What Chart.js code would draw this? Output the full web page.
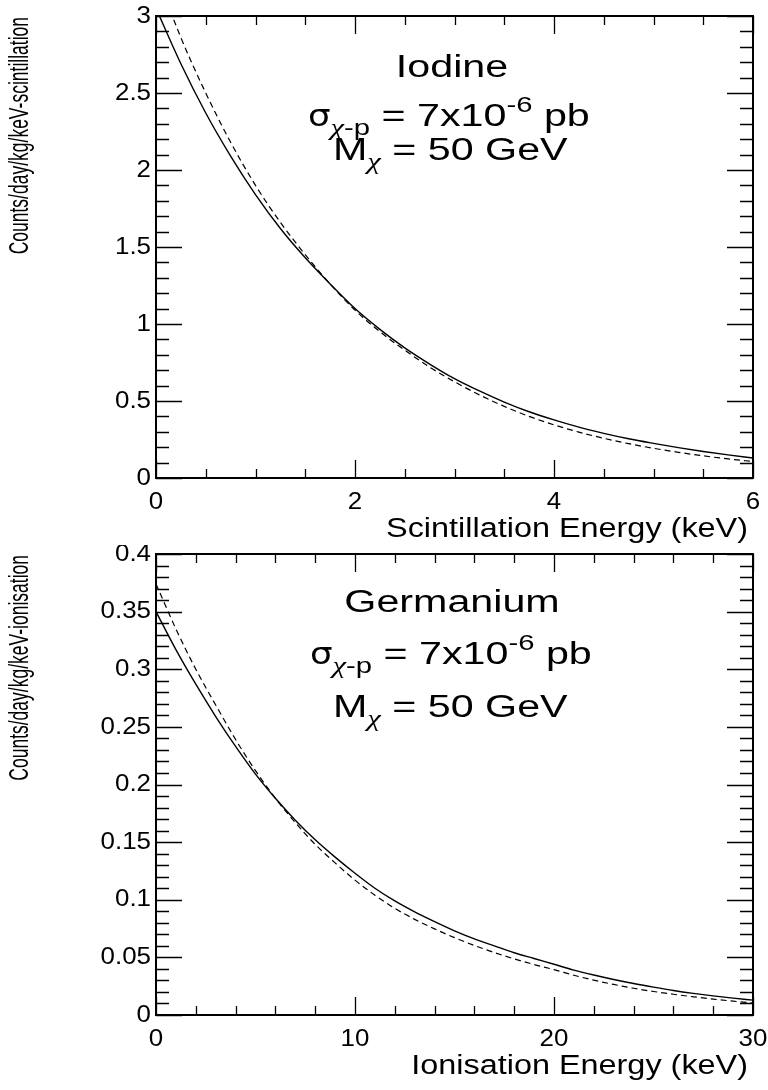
<!DOCTYPE html>
<html>
<head>
<meta charset="utf-8">
<script src="https://cdn.jsdelivr.net/npm/chart.js@4/dist/chart.umd.min.js"></script>
<style>
html,body{margin:0;padding:0;background:#fff;}
canvas{display:block;}
</style>
</head>
<body>
<canvas id="c1" width="768" height="545"></canvas>
<canvas id="c2" width="768" height="545"></canvas>
<script>
// ---------------- data ----------------
const iodineEnergy = [0,0.25,0.5,0.75,1,1.25,1.5,1.75,2,2.25,2.5,2.75,3,3.25,3.5,3.75,4,4.25,4.5,4.75,5,5.25,5.5,5.75,6];
const iodineSolid  = [3.05,2.69,2.37,2.09,1.84,1.62,1.43,1.26,1.10,0.965,0.845,0.74,0.645,0.565,0.493,0.43,0.377,0.33,0.29,0.255,0.225,0.197,0.172,0.15,0.13];
const iodineDashed = [3.28,2.86,2.50,2.18,1.90,1.66,1.45,1.26,1.09,0.95,0.83,0.72,0.625,0.54,0.465,0.40,0.345,0.298,0.258,0.223,0.193,0.167,0.144,0.124,0.107];

const germEnergy = [0,1,2,3,4,5,6,7,8,9,10,11,12,13,14,15,16,17,18,19,20,21,22,23,24,25,26,27,28,29,30];
const germSolid  = [0.350,0.317,0.287,0.259,0.233,0.209,0.188,0.169,0.152,0.137,0.123,0.110,0.099,0.0895,0.081,0.073,0.066,0.060,0.054,0.049,0.044,0.039,0.0347,0.0308,0.0273,0.0242,0.0213,0.0188,0.0166,0.0146,0.0129];
const germDashed = [0.374,0.335,0.300,0.269,0.239,0.212,0.188,0.167,0.148,0.132,0.117,0.104,0.0925,0.083,0.0747,0.0671,0.0603,0.0542,0.0487,0.0438,0.0394,0.0345,0.0302,0.0265,0.0232,0.0204,0.0180,0.0158,0.0138,0.0120,0.0104];

const iodineXTicks  = [0,2,4,6];
const iodineXLabels = ['0','2','4','6'];
const iodineYTicks  = [0,0.5,1,1.5,2,2.5,3];
const iodineYLabels = ['0','0.5','1','1.5','2','2.5','3'];

const germXTicks  = [0,10,20,30];
const germXLabels = ['0','10','20','30'];
const germYTicks  = [0,0.05,0.1,0.15,0.2,0.25,0.3,0.35,0.4];
const germYLabels = ['0','0.05','0.1','0.15','0.2','0.25','0.3','0.35','0.4'];

const iodineTitles = { x: 'Scintillation Energy (keV)', y: 'Counts/day/kg/keV-scintillation', target: 'Iodine' };
const germTitles   = { x: 'Ionisation Energy (keV)',    y: 'Counts/day/kg/keV-ionisation',   target: 'Germanium' };
const crossSection = ['\u03C3', '\u03C7', '-p', ' = 7x10', '-6', ' pb'];
const wimpMass     = ['M', '\u03C7', ' = 50 GeV'];

// ---------------- drawing helpers ----------------
const SANS = "'Liberation Sans', Arial, Helvetica, sans-serif";

function sText(ctx, s, x, y, font, align, k, baseline) {
  ctx.save();
  ctx.font = font;
  ctx.textAlign = 'left';
  ctx.textBaseline = baseline || 'alphabetic';
  const w = ctx.measureText(s).width * k;
  const x0 = align === 'center' ? x - w / 2 : (align === 'right' ? x - w : x);
  ctx.translate(x0, y);
  ctx.scale(k, 1);
  ctx.fillText(s, 0, 0);
  ctx.restore();
  return w;
}

function minorList(min, max, step) {
  const out = [];
  const n = Math.round((max - min) / step);
  for (let i = 0; i <= n; i++) out.push(min + i * step);
  return out;
}

function rootPlugin(spec) {
  return {
    id: 'root_' + spec.name,
    afterDraw(chart) {
      const ctx = chart.ctx, a = chart.chartArea;
      const xs = chart.scales.x, ys = chart.scales.y;
      ctx.save();
      ctx.strokeStyle = '#000';
      ctx.fillStyle = '#000';
      // ticks (inside the frame, on all four sides)
      ctx.lineWidth = 1.3;
      ctx.beginPath();
      minorList(xs.min, xs.max, spec.xMinorStep).forEach(v => {
        const p = Math.round(xs.getPixelForValue(v)) + 0.5;
        ctx.moveTo(p, a.bottom); ctx.lineTo(p, a.bottom - 9);
        ctx.moveTo(p, a.top);    ctx.lineTo(p, a.top + 9);
      });
      spec.xTicks.forEach(v => {
        const p = Math.round(xs.getPixelForValue(v)) + 0.5;
        ctx.moveTo(p, a.bottom); ctx.lineTo(p, a.bottom - 18);
        ctx.moveTo(p, a.top);    ctx.lineTo(p, a.top + 18);
      });
      minorList(ys.min, ys.max, spec.yMinorStep).forEach(v => {
        const p = Math.round(ys.getPixelForValue(v)) + 0.5;
        ctx.moveTo(a.left, p);  ctx.lineTo(a.left + 13, p);
        ctx.moveTo(a.right, p); ctx.lineTo(a.right - 13, p);
      });
      spec.yTicks.forEach(v => {
        const p = Math.round(ys.getPixelForValue(v)) + 0.5;
        ctx.moveTo(a.left, p);  ctx.lineTo(a.left + 26, p);
        ctx.moveTo(a.right, p); ctx.lineTo(a.right - 26, p);
      });
      ctx.stroke();
      // frame
      ctx.lineWidth = 2;
      ctx.strokeRect(a.left, a.top, a.right - a.left, a.bottom - a.top);

      // tick labels
      const tickFont = '24px ' + SANS;
      spec.yTicks.forEach((v, i) => {
        sText(ctx, spec.yLabels[i], 151, ys.getPixelForValue(v), tickFont, 'right', 1.08, 'middle');
      });
      spec.xTicks.forEach((v, i) => {
        sText(ctx, spec.xLabels[i], xs.getPixelForValue(v), a.bottom + 24, tickFont, 'center', 1.08, 'middle');
      });
      // axis titles
      sText(ctx, spec.titles.x, a.right - 5, a.bottom + 52, '27px ' + SANS, 'right', 1.2, 'middle');
      ctx.save();
      ctx.font = '17.5px ' + SANS;
      ctx.textAlign = 'right';
      ctx.textBaseline = 'middle';
      ctx.translate(20, a.top + 1);
      ctx.rotate(-Math.PI / 2);
      ctx.scale(1, 1.6);
      ctx.fillText(spec.titles.y, 0, 0);
      ctx.restore();

      // annotation
      const K = 1.33;
      const big = '31px ' + SANS, small = '22px ' + SANS;
      const chiFont = 'italic 23px "Liberation Serif", serif';
      const sigFont = '31px "DejaVu Sans", ' + SANS;
      sText(ctx, spec.titles.target, 452, spec.ann.y0, big, 'center', K);
      let x = spec.ann.x1, y = spec.ann.y1;
      x += sText(ctx, crossSection[0], x, y, sigFont, 'left', 1.15);
      x += sText(ctx, crossSection[1], x, y + 9, chiFont, 'left', K);
      x += sText(ctx, crossSection[2], x, y + 9, small, 'left', K);
      x += sText(ctx, crossSection[3], x, y, big, 'left', K);
      x += sText(ctx, crossSection[4], x, y - 14, small, 'left', K);
      x += sText(ctx, crossSection[5], x, y, big, 'left', K);
      x = spec.ann.x2; y = spec.ann.y2;
      x += sText(ctx, wimpMass[0], x, y, big, 'left', K);
      x += sText(ctx, wimpMass[1], x, y + 9, chiFont, 'left', K);
      x += sText(ctx, wimpMass[2], x, y, big, 'left', K);
      ctx.restore();
    }
  };
}

function makeChart(id, spec) {
  const pts = (xs, ys) => xs.map((x, i) => ({ x: x, y: ys[i] }));
  return new Chart(document.getElementById(id), {
    type: 'line',
    data: {
      datasets: [
        { data: pts(spec.energy, spec.solid), borderColor: '#000', borderWidth: 1.4,
          pointRadius: 0, fill: false, cubicInterpolationMode: 'monotone' },
        { data: pts(spec.energy, spec.dashed), borderColor: '#000', borderWidth: 1.2,
          borderDash: [6, 4], pointRadius: 0, fill: false, cubicInterpolationMode: 'monotone' }
      ]
    },
    options: {
      responsive: false,
      animation: false,
      devicePixelRatio: 1,
      events: [],
      layout: { padding: { top: spec.padTop, right: 15, left: 0, bottom: 0 } },
      plugins: { legend: { display: false }, tooltip: { enabled: false } },
      scales: {
        x: { type: 'linear', min: spec.xTicks[0], max: spec.xTicks[spec.xTicks.length - 1],
             ticks: { display: false }, grid: { display: false }, border: { display: false },
             afterFit: s => { s.height = spec.xAxisH; } },
        y: { type: 'linear', min: spec.yTicks[0], max: spec.yTicks[spec.yTicks.length - 1],
             ticks: { display: false }, grid: { display: false }, border: { display: false },
             afterFit: s => { s.width = 156; } }
      }
    },
    plugins: [rootPlugin(spec)]
  });
}

makeChart('c1', {
  name: 'iodine', energy: iodineEnergy, solid: iodineSolid, dashed: iodineDashed,
  xTicks: iodineXTicks, xLabels: iodineXLabels, yTicks: iodineYTicks, yLabels: iodineYLabels,
  xMinorStep: 0.5, yMinorStep: 0.1, titles: iodineTitles,
  padTop: 16, xAxisH: 67,
  ann: { y0: 77, x1: 308, y1: 126, x2: 333, y2: 160 }
});
makeChart('c2', {
  name: 'germ', energy: germEnergy, solid: germSolid, dashed: germDashed,
  xTicks: germXTicks, xLabels: germXLabels, yTicks: germYTicks, yLabels: germYLabels,
  xMinorStep: 2, yMinorStep: 0.01, titles: germTitles,
  padTop: 9, xAxisH: 75,
  ann: { y0: 67, x1: 310, y1: 119, x2: 333, y2: 172 }
});
</script>
</body>
</html>
